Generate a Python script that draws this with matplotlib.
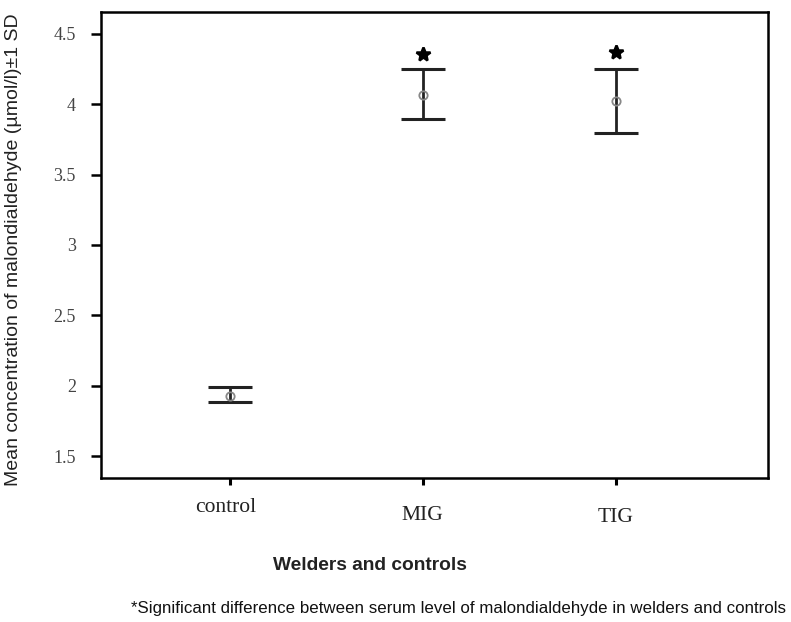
import matplotlib
matplotlib.use("Agg")
import matplotlib.pyplot as plt

groups = ["control", "MIG", "TIG"]
means = [1.93, 4.065, 4.02]
upper = [1.99, 4.25, 4.25]
lower = [1.885, 3.895, 3.795]
star_y = [None, 4.36, 4.375]
yticks = [1.5, 2, 2.5, 3, 3.5, 4, 4.5]
ytick_labels = ["1.5", "2", "2.5", "3", "3.5", "4", "4.5"]

fig = plt.figure(figsize=(7.91, 6.22), dpi=100)
ax = fig.add_axes([101/791, 1 - 478/622, (768-101)/791, (478-12)/622])

x = [1, 2, 3]
yerr = [[m - l for m, l in zip(means, lower)], [u - m for m, u in zip(means, upper)]]
ax.errorbar(x, means, yerr=yerr, fmt="none", ecolor="#222222", elinewidth=2.0,
            capsize=16, capthick=2.2)
ax.plot(x, means, "o", ms=6, mfc="none", mec="#888888", mew=1.3)
for xi, s in zip(x, star_y):
    if s is not None:
        ax.plot(xi, s, marker="*", ms=10, color="black", mec="black", mew=1.8)

xmin, xmax = 0.332, 3.79
ax.set_xlim(xmin, xmax)
ax.set_ylim(1.344, 4.656)
ax.set_yticks(yticks)
ax.set_yticklabels(ytick_labels, family="Liberation Serif", fontsize=13, color="#444444")
ax.set_xticks(x)
ax.set_xticklabels([])
ax.tick_params(axis="y", direction="out", length=7, width=1.8, pad=11)
ax.tick_params(axis="x", direction="out", length=5, width=2.2)
for sp in ax.spines.values():
    sp.set_linewidth(1.8)
    sp.set_color("black")

# x tick labels (slightly staggered as in reference)
label_y = [507, 515, 518]
label_dx = [-4, 0, 0]
for xi, g, py, dx in zip(x, groups, label_y, label_dx):
    fig.text((101 + (xi - xmin) / (xmax - xmin) * 667 + dx) / 791, 1 - py / 622, g,
             family="Liberation Serif", fontsize=15.5, color="#222222",
             ha="center", va="center")

fig.text(14/791, 1 - 250/622, "Mean concentration of malondialdehyde (µmol/l)±1 SD",
         rotation=90, family="Liberation Sans", fontsize=14, color="#222222",
         ha="center", va="center")
fig.text(370/791, 1 - 566/622, "Welders and controls", family="Liberation Sans",
         fontweight="bold", fontsize=13.8, color="#222222", ha="center", va="center")
fig.text(458/791, 1 - 608/622,
         "*Significant difference between serum level of malondialdehyde in welders and controls",
         family="Liberation Sans", fontsize=12.2, color="#111111", ha="center", va="center")

fig.savefig("out.png", dpi=100)
